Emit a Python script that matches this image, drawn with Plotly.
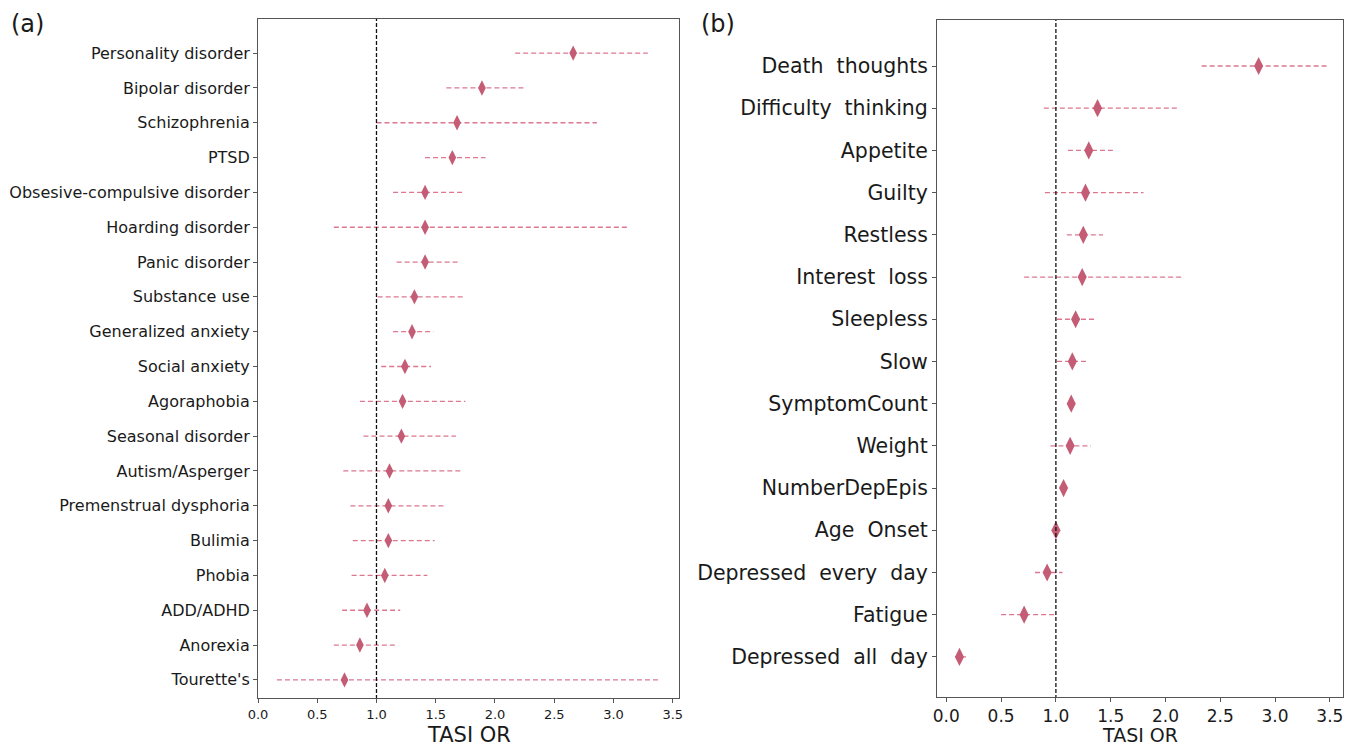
import plotly.graph_objects as go

# ---- Panel (a) data ----
a_labels = ["Personality disorder", "Bipolar disorder", "Schizophrenia", "PTSD",
            "Obsesive-compulsive disorder", "Hoarding disorder", "Panic disorder",
            "Substance use", "Generalized anxiety", "Social anxiety", "Agoraphobia",
            "Seasonal disorder", "Autism/Asperger", "Premenstrual dysphoria", "Bulimia",
            "Phobia", "ADD/ADHD", "Anorexia", "Tourette's"]
a_or = [2.66, 1.89, 1.68, 1.64, 1.41, 1.41, 1.41, 1.32, 1.30, 1.24, 1.22, 1.21, 1.11,
        1.10, 1.10, 1.07, 0.92, 0.86, 0.73]
a_lo = [2.17, 1.59, 1.00, 1.41, 1.14, 0.64, 1.17, 1.01, 1.14, 1.04, 0.86, 0.89, 0.72,
        0.78, 0.80, 0.79, 0.71, 0.64, 0.16]
a_hi = [3.29, 2.26, 2.86, 1.92, 1.73, 3.12, 1.69, 1.73, 1.48, 1.46, 1.75, 1.67, 1.72,
        1.57, 1.49, 1.43, 1.20, 1.17, 3.40]

# ---- Panel (b) data ----
b_labels = ["Death  thoughts", "Difficulty  thinking", "Appetite", "Guilty", "Restless",
            "Interest  loss", "Sleepless", "Slow", "SymptomCount", "Weight",
            "NumberDepEpis", "Age  Onset", "Depressed  every  day", "Fatigue",
            "Depressed  all  day"]
b_or = [2.85, 1.38, 1.30, 1.27, 1.25, 1.24, 1.18, 1.15, 1.14, 1.13, 1.07, 1.00, 0.92,
        0.71, 0.12]
b_lo = [2.33, 0.89, 1.11, 0.90, 1.10, 0.71, 1.01, 1.01, 1.11, 0.95, 1.04, 0.98, 0.81,
        0.50, 0.08]
b_hi = [3.47, 2.12, 1.52, 1.80, 1.43, 2.17, 1.37, 1.29, 1.17, 1.32, 1.10, 1.02, 1.06,
        1.00, 0.18]

x_ticks = [0.0, 0.5, 1.0, 1.5, 2.0, 2.5, 3.0, 3.5]

LINE_C = "#dc7790"
MARK_C = "#c45c75"
FONT = "DejaVu Sans"

fig = go.Figure()


def add_panel(labels, orv, lo, hi, xa, ya, msize):
    ys = list(range(len(labels)))
    lx, ly = [], []
    for i, y in enumerate(ys):
        lx += [lo[i], hi[i], None]
        ly += [y, y, None]
    fig.add_trace(go.Scatter(x=lx, y=ly, mode="lines", xaxis=xa, yaxis=ya,
                             line=dict(color=LINE_C, width=1.3, dash="5px,3px"),
                             showlegend=False, hoverinfo="skip"))
    fig.add_trace(go.Scatter(x=orv, y=ys, mode="markers", xaxis=xa, yaxis=ya,
                             marker=dict(symbol="diamond-tall", size=msize, color=MARK_C),
                             showlegend=False))
    # reference line at OR = 1
    fig.add_trace(go.Scatter(x=[1, 1], y=[-5, 40], mode="lines", xaxis=xa, yaxis=ya,
                             line=dict(color="#111111", width=1.3, dash="4px,2px"),
                             showlegend=False, hoverinfo="skip"))


add_panel(a_labels, a_or, a_lo, a_hi, "x", "y", 11)
add_panel(b_labels, b_or, b_lo, b_hi, "x2", "y2", 13)

W, H = 1349, 750
frame = dict(showline=True, linecolor="#555555", linewidth=1, mirror=True,
             showgrid=False, zeroline=False, automargin=False)

fig.update_layout(
    width=W, height=H,
    margin=dict(l=0, r=0, t=0, b=0, autoexpand=False),
    paper_bgcolor="white", plot_bgcolor="white",
    font=dict(family=FONT, color="#1a1a1a"),
    xaxis=dict(domain=[258 / W, 679 / W], range=[0, 3.553], tickvals=x_ticks,
               tickformat=".1f", ticks="outside", ticklen=4, tickcolor="#555555",
               tickfont=dict(size=13), anchor="y", **frame),
    yaxis=dict(domain=[1 - 698 / H, 1 - 19 / H], range=[18.52, -0.98],
               tickvals=list(range(len(a_labels))), ticktext=a_labels,
               ticks="outside", ticklen=4, tickcolor="#555555",
               tickfont=dict(size=16), anchor="x", **frame),
    xaxis2=dict(domain=[937 / W, 1343 / W], range=[-0.085, 3.62], tickvals=x_ticks,
                tickformat=".1f", ticks="outside", ticklen=4, tickcolor="#555555",
                tickfont=dict(size=17), anchor="y2", **frame),
    yaxis2=dict(domain=[1 - 697 / H, 1 - 20 / H], range=[14.95, -1.09],
                tickvals=list(range(len(b_labels))), ticktext=b_labels,
                ticks="outside", ticklen=4, tickcolor="#555555",
                tickfont=dict(size=20.5), anchor="x2", **frame),
    annotations=[
        dict(text="(a)", x=9 / W, y=1 - 24 / H, xref="paper", yref="paper",
             xanchor="left", yanchor="middle", showarrow=False, font=dict(size=24)),
        dict(text="(b)", x=699 / W, y=1 - 24 / H, xref="paper", yref="paper",
             xanchor="left", yanchor="middle", showarrow=False, font=dict(size=24)),
        dict(text="TASI OR", x=(258 + 679) / 2 / W, y=1 - 735 / H, xref="paper",
             yref="paper", xanchor="center", yanchor="middle", showarrow=False,
             font=dict(size=21)),
        dict(text="TASI OR", x=(937 + 1343) / 2 / W, y=1 - 735 / H, xref="paper",
             yref="paper", xanchor="center", yanchor="middle", showarrow=False,
             font=dict(size=19)),
    ],
)

fig.write_html("out.html")
